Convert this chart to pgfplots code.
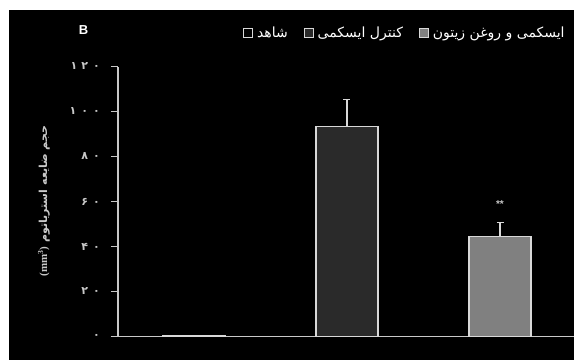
\documentclass[border=0pt]{standalone}
\usepackage{fontspec}
\usepackage{pgfplots}
\pgfplotsset{compat=1.18}
\TeXXeTstate=1
\setmainfont{Liberation Sans}
\newfontfamily\arabicfont[Script=Arabic]{DejaVu Sans}
\newfontfamily\serifont{Liberation Serif}
\definecolor{axgray}{HTML}{C8C8C8}
\definecolor{barline}{HTML}{D8D8D8}
\definecolor{ctrl}{HTML}{2A2A2A}
\definecolor{oliv}{HTML}{808080}
\newcommand{\pd}[1]{{\arabicfont\bfseries #1}}
\begin{document}
\begin{tikzpicture}[x=1pt,y=1pt]
\useasboundingbox (0,0) rectangle (574,360);
\fill[white] (0,0) rectangle (574,360);
\fill[black] (9,0) rectangle (574,350);
\begin{axis}[
  at={(118pt,23.5pt)}, anchor=south west,
  scale only axis, width=458.5pt, height=270pt,
  xmin=-0.4967, xmax=2.5, ymin=0, ymax=120,
  axis x line*=bottom, axis y line*=left,
  x axis line style={-, draw=axgray, line width=1.2pt, shorten <=-7pt},
  y axis line style={-, draw=axgray, line width=1.2pt},
  xtick=\empty,
  ytick={0,20,40,60,80,100,120},
  yticklabels={\pd{۰},\pd{۲\hspace{5pt}۰},\pd{۴\hspace{5pt}۰},\pd{۶\hspace{5pt}۰},\pd{۸\hspace{5pt}۰},\pd{۱\hspace{5pt}۰\hspace{5pt}۰},\pd{۱\hspace{4pt}۲\hspace{5pt}۰}},
  y tick label style={text=axgray, font=\fontsize{11}{12}\selectfont, inner sep=0pt, anchor=east, xshift=-11pt},
  tick style={draw=axgray, line width=1.2pt},
  major tick length=7pt, tick align=outside,
  clip=false,
  legend style={at={(0.2726,1.126)}, anchor=west, draw=none, fill=none,
    text=white, inner sep=0pt,
    font=\arabicfont\fontsize{14}{16}\selectfont,
    /tikz/every even column/.append style={column sep=14pt},
    /tikz/every odd column/.append style={column sep=2pt}},
  legend columns=-1,
  legend image code/.code={\draw[#1, line width=0.9pt] (0pt,-4.5pt) rectangle (9pt,4.5pt);},
]
\addplot[ybar, bar shift=0pt, bar width=62pt, fill=black, draw=barline, line width=1.2pt]
  coordinates {(0,0.5)};
\addlegendentry{\beginR شاهد\endR}
\addplot[ybar, bar shift=0pt, bar width=62pt, fill=ctrl, draw=barline, line width=1.2pt,
  error bars/.cd, y dir=plus, y explicit,
  error bar style={draw=barline, line width=1.2pt},
  error mark options={rotate=90, mark size=3.5pt, draw=barline, line width=1.2pt}]
  coordinates {(1,93.3) +- (0,12.0)};
\addlegendentry{\beginR کنترل ایسکمی\endR}
\addplot[ybar, bar shift=0pt, bar width=62pt, fill=oliv, draw=barline, line width=1.2pt,
  error bars/.cd, y dir=plus, y explicit,
  error bar style={draw=barline, line width=1.2pt},
  error mark options={rotate=90, mark size=3.5pt, draw=barline, line width=1.2pt}]
  coordinates {(2,44.6) +- (0,5.9)};
\addlegendentry{\beginR ایسکمی و روغن زیتون\endR}
\node[text=axgray, font=\fontsize{10}{10}\selectfont\bfseries] at (axis cs:2,59) {**};
\end{axis}
\node[text=white, font=\fontsize{13}{13}\selectfont\bfseries] at (83.5,330) {B};
\node[rotate=90, text=axgray, font=\fontsize{11}{13}\selectfont] at (44,159)
  {\arabicfont\bfseries\beginR حجم ضایعه استریاتوم \beginL{\serifont\bfseries(mm\textsuperscript{3})}\endL\endR};
\end{tikzpicture}
\end{document}
